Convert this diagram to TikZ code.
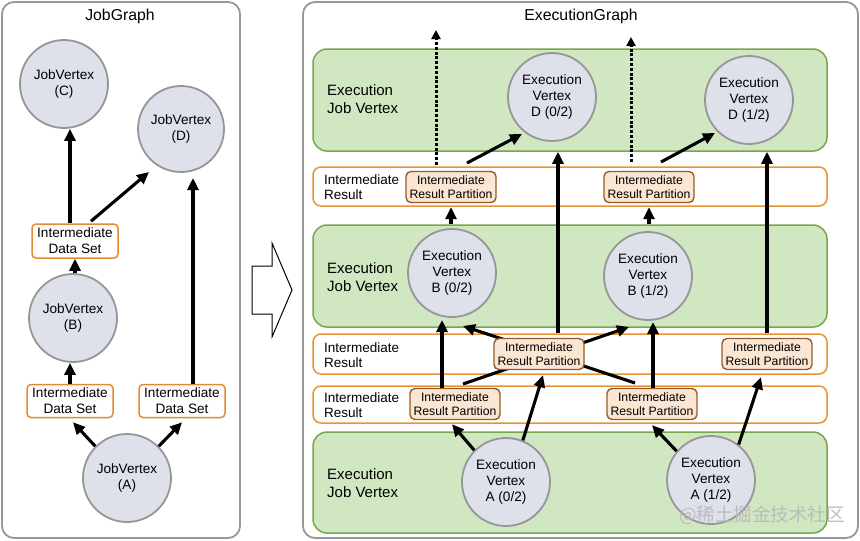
\documentclass[tikz,border=0pt]{standalone}
\usepackage{fontspec}
\setmainfont{Liberation Sans}
\newfontfamily\cjkfont{Noto Sans CJK SC}
\usetikzlibrary{arrows.meta,calc}
\definecolor{panelgray}{RGB}{152,152,152}
\definecolor{circfill}{RGB}{222,225,234}
\definecolor{circdraw}{RGB}{150,150,152}
\definecolor{greenfill}{RGB}{209,231,194}
\definecolor{greendraw}{RGB}{118,166,78}
\definecolor{bandorange}{RGB}{232,148,52}
\definecolor{idsorange}{RGB}{226,140,46}
\definecolor{partfill}{RGB}{251,230,212}
\definecolor{partdraw}{RGB}{150,92,40}
\begin{document}
\begin{tikzpicture}[x=1pt,y=-1pt,
  panel/.style={draw=panelgray, line width=1.8pt, rounded corners=12pt, fill=white, inner sep=0pt},
  ttl/.style={font=\fontsize{15.8}{18}\selectfont},
  jv/.style={circle, draw=circdraw, fill=circfill, line width=1.8pt, minimum size=88pt, inner sep=0pt, align=center, font=\fontsize{13.6}{16}\selectfont},
  ids/.style={draw=idsorange, fill=white, line width=1.5pt, rounded corners=4pt, minimum width=86pt, minimum height=33pt, inner sep=0pt, align=center, font=\fontsize{13.6}{16}\selectfont},
  ejv/.style={draw=greendraw, fill=greenfill, line width=1.5pt, rounded corners=14pt, minimum width=514pt, inner sep=0pt},
  band/.style={draw=bandorange, fill=white, line width=1.5pt, rounded corners=8pt, minimum width=514pt, inner sep=0pt},
  part/.style={draw=partdraw, fill=partfill, line width=1.4pt, rounded corners=5pt, minimum width=90pt, minimum height=31pt, inner sep=0pt, align=center, font=\fontsize{12.2}{14.5}\selectfont},
  biglbl/.style={anchor=west, align=left, inner sep=0pt, font=\fontsize{15}{18}\selectfont},
  bandlbl/.style={anchor=west, align=left, inner sep=0pt, font=\fontsize{13.5}{15.5}\selectfont},
  arr/.style={line width=3.1pt, -{Triangle[length=12pt,width=11pt]}},
  darr/.style={line width=3pt, dash pattern=on 3pt off 1.8pt, -{Triangle[length=9pt,width=9pt]}}
]
\useasboundingbox (0,0) rectangle (860,541);
\fill[white] (0,0) rectangle (860,541);

% ---------------- Left panel: JobGraph ----------------
\node[panel, minimum width=238pt, minimum height=536pt] (LP) at (121,270) {};
\node[ttl] (LPt) at (120,16) {JobGraph};

\node[jv] (C) at (64,84) {JobVertex\\(C)};
\node[jv, minimum size=86pt] (D) at (181,129) {JobVertex\\(D)};
\node[ids, minimum height=34pt] (IDSt) at (75,241) {Intermediate\\Data Set};
\node[jv] (B) at (73,318) {JobVertex\\(B)};
\node[ids] (IDSL) at (70,401) {Intermediate\\Data Set};
\node[ids] (IDSR) at (182,401) {Intermediate\\Data Set};
\node[jv] (A) at (127,478) {JobVertex\\(A)};

\draw[arr] ([shift={(-5,0)}]IDSt.north) -- ([shift={(-5,0)}]IDSt.north |- C.south);
\draw[arr] ([shift={(16,-2)}]IDSt.north) -- ([shift={(-32,43)}]D.center);
\draw[arr] ([shift={(11,0)}]IDSR.north) -- ([shift={(12,49)}]D.center);
\draw[arr] (IDSt.south |- B.north) -- (IDSt.south);
\draw[arr] (IDSL.north) -- (IDSL.north |- B.south);
\draw[arr] (A.135) -- ([shift={(3,4)}]IDSL.south);
\draw[arr] (A.45) -- ([shift={(0,4)}]IDSR.south);

% ---------------- Hollow arrow ----------------
\draw[line width=1pt, fill=white] (252,266) -- (272,266) -- (272,243) -- (292,290) -- (272,337) -- (272,314) -- (252,314) -- cycle;

% ---------------- Right panel: ExecutionGraph ----------------
\node[panel, minimum width=555pt, minimum height=536pt] (RP) at (580.5,270) {};
\node[ttl] (RPt) at (581,16) {ExecutionGraph};

\node[ejv, minimum height=102pt] (G1) at (570,100) {};
\node[band, minimum height=39pt] (B1) at (570,186.5) {};
\node[ejv, minimum height=102pt] (G2) at (570,276) {};
\node[band, minimum height=40pt] (B2) at (570,354) {};
\node[band, minimum height=37pt] (B3) at (570,404.5) {};
\node[ejv, minimum height=101pt] (G3) at (570,482.5) {};

\node[biglbl] (G1l) at (327,99.5) {Execution\\Job Vertex};
\node[biglbl] (G2l) at (327,277) {Execution\\Job Vertex};
\node[biglbl] (G3l) at (327,483) {Execution\\Job Vertex};
\node[bandlbl] (B1l) at (324,187) {Intermediate\\Result};
\node[bandlbl] (B2l) at (324,355) {Intermediate\\Result};
\node[bandlbl] (B3l) at (324,405) {Intermediate\\Result};

\node[jv] (D0) at (552,97) {Execution\\Vertex\\D (0/2)};
\node[jv] (D1) at (749,100) {Execution\\Vertex\\D (1/2)};
\node[jv] (BB0) at (452,273) {Execution\\Vertex\\B (0/2)};
\node[jv] (BB1) at (648,276) {Execution\\Vertex\\B (1/2)};
\node[jv] (A0) at (506,482) {Execution\\Vertex\\A (0/2)};
\node[jv] (A1) at (711,480) {Execution\\Vertex\\A (1/2)};

% crossing lines passing behind the middle partition
\coordinate (P3aTR) at (463,384);
\coordinate (P3bTL) at (635,383);
\draw[arr] (P3aTR) -- ([shift={(-19,51)}]BB1.center);
\draw[arr] (P3bTL) -- ([shift={(11,53)}]BB0.center);

\node[part] (P1a) at (451,187) {Intermediate\\Result Partition};
\node[part] (P1b) at (649,187) {Intermediate\\Result Partition};
\node[part] (P2m) at (539,354) {Intermediate\\Result Partition};
\node[part] (P2r) at (767,354) {Intermediate\\Result Partition};
\node[part] (P3a) at (455,404) {Intermediate\\Result Partition};
\node[part] (P3b) at (652,404) {Intermediate\\Result Partition};

\coordinate (up1) at (436,30);
\coordinate (up2) at (631,37);
\draw[darr] ([shift={(-15,-22)}]P1a.center) -- (up1);
\draw[darr] ([shift={(-18,-25)}]P1b.center) -- (up2);
\draw[arr] ([shift={(16,-24)}]P1a.center) -- ([shift={(-30,37)}]D0.center);
\draw[arr] ([shift={(12,-25)}]P1b.center) -- ([shift={(-34,33)}]D1.center);

\draw[arr] (P1a.south |- G2.north) -- ([shift={(0,4)}]P1a.south);
\draw[arr] (P1b.south |- G2.north) -- ([shift={(0,4)}]P1b.south);

\draw[arr] ([shift={(19,0)}]P2m.north |- B2.north) -- ([shift={(19,0)}]P2m.north |- G1.south);
\draw[arr] (P2r.north |- B2.north) -- (P2r.north |- G1.south);

\draw[arr] ([shift={(-13,0)}]P3a.north) -- ([shift={(-10,47)}]BB0.center);
\draw[arr] ([shift={(1,0)}]P3b.north) -- ([shift={(5,46)}]BB1.center);

\draw[arr] (A0.135) -- ([shift={(-3,4)}]P3a.south);
\draw[arr] (A0.68) -- ([shift={(4,5)}]P2m.south);
\draw[arr] (A1.140) -- ([shift={(0,5)}]P3b.south);
\draw[arr] (A1.52) -- ([shift={(-6,7)}]P2r.south);

% watermark
\node[font=\cjkfont\fontsize{18.5}{20}\selectfont, text=black!28, opacity=0.9] (wm) at (762,515) {@稀土掘金技术社区};
\end{tikzpicture}
\end{document}
